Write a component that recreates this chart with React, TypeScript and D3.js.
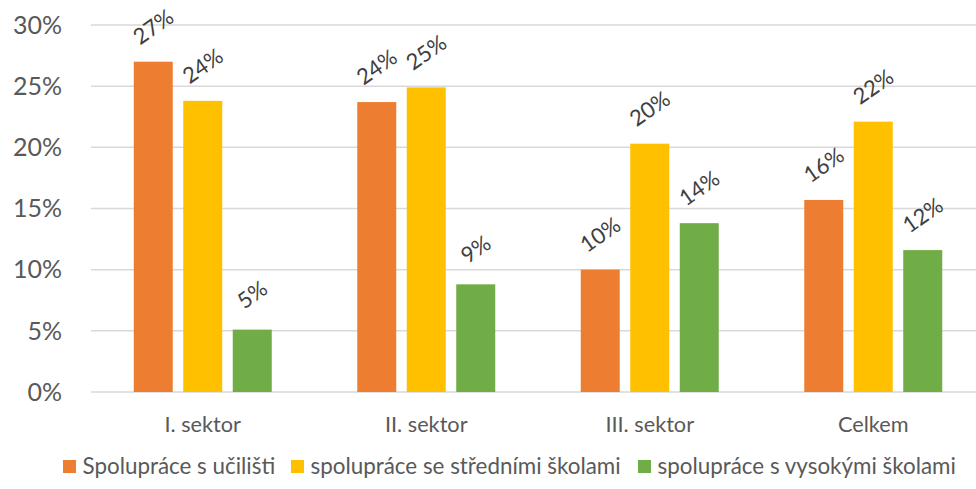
import React from "react";
import * as d3 from "d3";

const categories = ["I. sektor", "II. sektor", "III. sektor", "Celkem"];
const seriesNames = [
  "Spolupráce s učilišti",
  "spolupráce se středními školami",
  "spolupráce s vysokými školami",
];
const ucilisteValues = [0.27, 0.237, 0.1, 0.157];
const stredniValues = [0.238, 0.249, 0.203, 0.221];
const vysokeValues = [0.051, 0.088, 0.138, 0.116];
const colors = ["#ED7D31", "#FFC000", "#70AD47"];
const yTicks = [0, 0.05, 0.1, 0.15, 0.2, 0.25, 0.3];

const W = 976;
const H = 489;
const FONT = "Lato, 'Open Sans', sans-serif";

export default function App() {
  const series = [ucilisteValues, stredniValues, vysokeValues];
  const x = d3.scaleBand<string>().domain(categories).range([91, 985]).paddingInner(0).paddingOuter(0);
  const y = d3.scaleLinear().domain([0, 0.3]).range([392, 25]);
  const barW = 39;
  const step = 49.5;
  const fmt = d3.format(".0%");

  const legendX = [63, 291, 638];

  return (
    <svg width={W} height={H} style={{ position: "absolute", left: 0, top: 0, background: "#fff" }} fontFamily={FONT}>
      {yTicks.map((t) => (
        <g key={t}>
          <line x1={91} x2={W} y1={y(t)} y2={y(t)} stroke="#d9d9d9" strokeWidth={1.5} />
          <text x={62} y={y(t)} dy="0.35em" textAnchor="end" fontSize={25} fill="#595959">
            {fmt(t)}
          </text>
        </g>
      ))}
      {categories.map((c, ci) => {
        const cx = (x(c) as number) + x.bandwidth() / 2;
        return (
          <g key={c}>
            {series.map((vals, si) => {
              const bx = cx + (si - 1) * step - barW / 2;
              const v = vals[ci];
              const lx = bx + barW / 2;
              const ly = y(v) - 35;
              return (
                <g key={si}>
                  <rect x={bx} y={y(v)} width={barW} height={y(0) - y(v)} fill={colors[si]} />
                  <text
                    x={lx}
                    y={ly}
                    dy="0.35em"
                    textAnchor="middle"
                    fontSize={22}
                    fill="#404040"
                    transform={`rotate(-35 ${lx} ${ly})`}
                  >
                    {fmt(v)}
                  </text>
                </g>
              );
            })}
            <text x={cx} y={432} textAnchor="middle" fontSize={21.7} fill="#595959">
              {c}
            </text>
          </g>
        );
      })}
      {seriesNames.map((n, i) => (
        <g key={n}>
          <rect x={legendX[i]} y={460} width={13} height={13} fill={colors[i]} />
          <text x={legendX[i] + 19.5} y={466.5} dy="0.35em" fontSize={22.4} fill="#595959">
            {n}
          </text>
        </g>
      ))}
    </svg>
  );
}
